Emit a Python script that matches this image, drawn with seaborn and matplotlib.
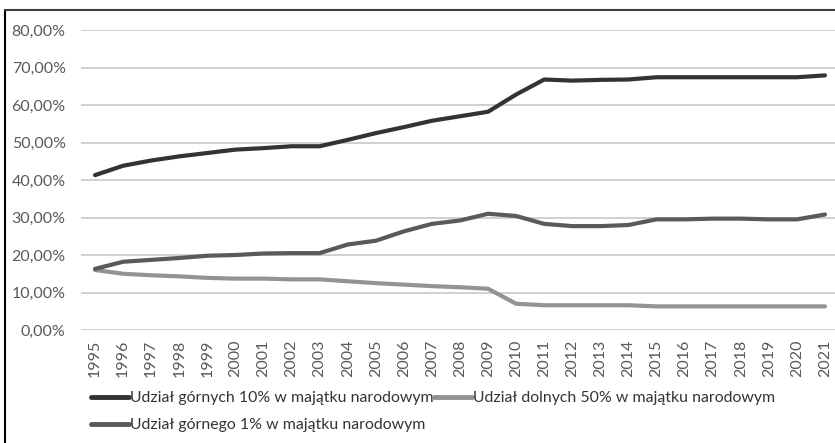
import pandas as pd
import numpy as np
import matplotlib.pyplot as plt
import seaborn as sns
from matplotlib.ticker import FuncFormatter

# data (percent)
years = list(range(1995, 2022))
top10 = [41.3, 43.8, 45.2, 46.3, 47.2, 48.1, 48.5, 49.0, 49.0, 50.7, 52.5, 54.1, 55.8, 57.0, 58.2,
         62.8, 66.8, 66.5, 66.7, 66.8, 67.4, 67.4, 67.4, 67.4, 67.4, 67.4, 67.9]
bottom50 = [16.0, 15.0, 14.6, 14.3, 13.9, 13.7, 13.7, 13.5, 13.5, 13.0, 12.5, 12.1, 11.7, 11.4, 11.0,
            7.0, 6.6, 6.6, 6.6, 6.6, 6.3, 6.3, 6.3, 6.3, 6.3, 6.3, 6.3]
top1 = [16.3, 18.2, 18.7, 19.2, 19.8, 20.0, 20.4, 20.5, 20.5, 22.8, 23.8, 26.3, 28.3, 29.2, 31.0,
        30.4, 28.3, 27.7, 27.7, 28.0, 29.5, 29.5, 29.7, 29.7, 29.5, 29.5, 30.8]

lab_top10 = 'Udział górnych 10% w majątku narodowym'
lab_bottom50 = 'Udział dolnych 50% w majątku narodowym'
lab_top1 = 'Udział górnego 1% w majątku narodowym'

df = pd.DataFrame({'rok': [str(y) for y in years] * 3,
                   'udzial': top10 + bottom50 + top1,
                   'seria': [lab_top10] * 27 + [lab_bottom50] * 27 + [lab_top1] * 27})
df['x'] = list(range(27)) * 3

sns.set_style('white')
plt.rcParams['font.family'] = ['Lato', 'DejaVu Sans']

fig = plt.figure(figsize=(8.35, 4.43), dpi=100)
ax = fig.add_axes([81 / 835, 1 - 330 / 443, (839 - 81) / 835, 300 / 443])

palette = {lab_top10: '#333333', lab_bottom50: '#939393', lab_top1: '#5a5a5a'}
sns.lineplot(data=df, x='x', y='udzial', hue='seria', palette=palette,
             linewidth=3, ax=ax, legend=False, solid_capstyle='round')

ax.set_xlim(-0.5, 26.5)
ax.set_ylim(0, 80)
ax.set_yticks(np.arange(0, 81, 10))
ax.yaxis.set_major_formatter(FuncFormatter(lambda v, p: f'{v:.2f}%'.replace('.', ',')))
ax.set_xticks(range(27))
ax.set_xticklabels([str(y) for y in years], rotation=90)
ax.tick_params(axis='both', colors='#595959', labelsize=11.5, length=0)
ax.tick_params(axis='y', pad=11)
ax.tick_params(axis='x', pad=7)
ax.grid(axis='y', color='#c8c8c8', linewidth=1.2)
ax.set_axisbelow(True)
for s in ax.spines.values():
    s.set_visible(False)
ax.set_xlabel('')
ax.set_ylabel('')

# legend: row 1 top10 + bottom50, row 2 top1
handles = [plt.Line2D([], [], color=palette[l], linewidth=3.5) for l in [lab_top10, lab_top1, lab_bottom50]]
fig.legend(handles, [lab_top10, lab_top1, lab_bottom50], ncol=2, frameon=False,
           loc='upper left', bbox_to_anchor=(77 / 835, 1 - 377 / 443),
           fontsize=11.4, handlelength=2.4, handletextpad=0.05, columnspacing=0.05,
           labelspacing=0.8, labelcolor='#333333')

# chart frame (cropped: only left and top edges visible)
fig.add_artist(plt.Line2D([5 / 835, 5 / 835], [0, 1 - 10 / 443], color='black', linewidth=1.5))
fig.add_artist(plt.Line2D([5 / 835, 1], [1 - 10 / 443, 1 - 10 / 443], color='#404040', linewidth=1.5))

fig.savefig('out.png', dpi=100)
